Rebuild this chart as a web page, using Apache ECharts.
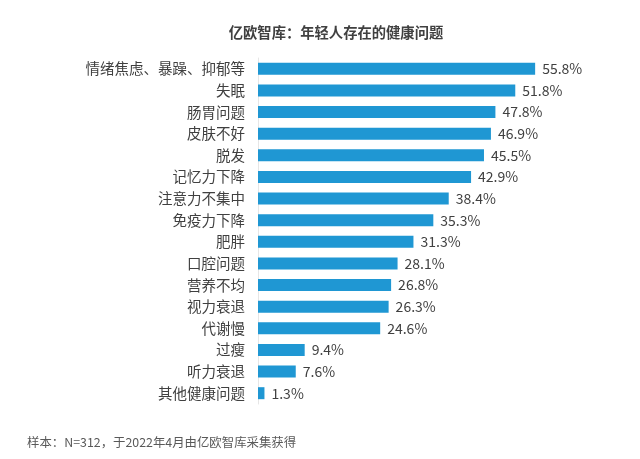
<!DOCTYPE html>
<html><head><meta charset="utf-8">
<script src="https://cdn.jsdelivr.net/npm/echarts@6/dist/echarts.min.js"></script>
<style>html,body{margin:0;padding:0;background:#fff}#c{width:640px;height:459px}</style>
</head><body><div id="c"></div>
<script>
const categories = ["情绪焦虑、暴躁、抑郁等","失眠","肠胃问题","皮肤不好","脱发","记忆力下降","注意力不集中","免疫力下降","肥胖","口腔问题","营养不均","视力衰退","代谢慢","过瘦","听力衰退","其他健康问题"];
const values = [55.8,51.8,47.8,46.9,45.5,42.9,38.4,35.3,31.3,28.1,26.8,26.3,24.6,9.4,7.6,1.3];
const titleText = "亿欧智库：年轻人存在的健康问题";
const noteText = "样本：N=312，于2022年4月由亿欧智库采集获得";
const font = '"Noto Sans CJK SC","Noto Sans",sans-serif';
const chart = echarts.init(document.getElementById('c'));
chart.setOption({
  animation:false,
  title:[{text:titleText,left:331,textAlign:'center',top:20,textStyle:{fontSize:14.3,fontWeight:'bold',color:'#404040',fontFamily:font}},
         {text:noteText,left:22,top:431,textStyle:{fontSize:12.4,fontWeight:'normal',color:'#595959',fontFamily:font}}],
  grid:{left:258,right:84,top:58,height:346,containLabel:false},
  xAxis:{type:'value',min:0,max:60,show:false},
  yAxis:{type:'category',data:categories,inverse:true,
    axisLine:{show:true,lineStyle:{color:'#e6e6e6'}},axisTick:{show:false},
    axisLabel:{margin:13,fontSize:14.5,color:'#404040',fontFamily:font}},
  series:[{type:'bar',data:values,barWidth:12,itemStyle:{color:'#1F97D3'},
    label:{show:true,position:'right',distance:7,formatter:p=>p.value.toFixed(1)+'%',fontSize:14,color:'#404040',fontFamily:font}}]
});
</script></body></html>
